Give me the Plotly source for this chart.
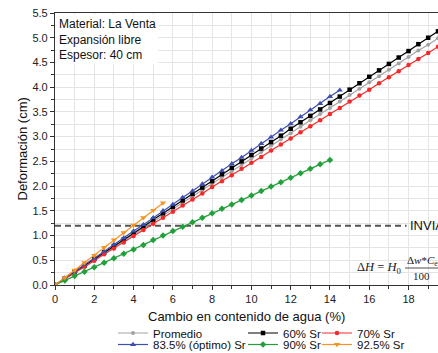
import plotly.graph_objects as go

# ---- data ----
x_long = [0, 0.5, 1, 1.5, 2, 2.5, 3, 3.5, 4, 4.5, 5, 5.5, 6, 6.5, 7, 7.5, 8, 8.5, 9, 9.5,
          10, 10.5, 11, 11.5, 12, 12.5, 13, 13.5, 14, 14.5, 15, 15.5, 16, 16.5, 17, 17.5,
          18, 18.5, 19, 19.5]
promedio = [0, 0.13, 0.26, 0.38, 0.51, 0.64, 0.77, 0.90, 1.02, 1.15, 1.28, 1.41, 1.54, 1.66,
            1.79, 1.92, 2.05, 2.18, 2.30, 2.43, 2.56, 2.69, 2.82, 2.94, 3.07, 3.20, 3.33, 3.46,
            3.58, 3.71, 3.84, 3.97, 4.10, 4.22, 4.35, 4.48, 4.61, 4.74, 4.86, 4.99]
sr60 = [0, 0.13, 0.26, 0.39, 0.53, 0.66, 0.79, 0.92, 1.05, 1.18, 1.32, 1.45, 1.58, 1.71,
        1.84, 1.97, 2.10, 2.24, 2.37, 2.50, 2.63, 2.76, 2.89, 3.02, 3.16, 3.29, 3.42, 3.55,
        3.68, 3.81, 3.95, 4.08, 4.21, 4.34, 4.47, 4.60, 4.73, 4.87, 5.00, 5.13]
sr70 = [0, 0.12, 0.25, 0.37, 0.49, 0.62, 0.74, 0.86, 0.99, 1.11, 1.24, 1.36, 1.48, 1.61,
        1.73, 1.85, 1.98, 2.10, 2.22, 2.35, 2.47, 2.59, 2.72, 2.84, 2.96, 3.09, 3.21, 3.33,
        3.46, 3.58, 3.71, 3.83, 3.95, 4.08, 4.20, 4.32, 4.45, 4.57, 4.69, 4.82]
x_835 = [0, 0.5, 1, 1.5, 2, 2.5, 3, 3.5, 4, 4.5, 5, 5.5, 6, 6.5, 7, 7.5, 8, 8.5, 9, 9.5,
         10, 10.5, 11, 11.5, 12, 12.5, 13, 13.5, 14, 14.5]
sr835 = [0, 0.14, 0.27, 0.41, 0.54, 0.68, 0.82, 0.95, 1.09, 1.22, 1.36, 1.50, 1.63, 1.77,
         1.90, 2.04, 2.18, 2.31, 2.45, 2.58, 2.72, 2.86, 2.99, 3.13, 3.26, 3.40, 3.54, 3.67,
         3.81, 3.94]
x_90 = [0, 0.5, 1, 1.5, 2, 2.5, 3, 3.5, 4, 4.5, 5, 5.5, 6, 6.5, 7, 7.5, 8, 8.5, 9, 9.5,
        10, 10.5, 11, 11.5, 12, 12.5, 13, 13.5, 14]
sr90 = [0, 0.09, 0.18, 0.27, 0.36, 0.45, 0.54, 0.63, 0.72, 0.81, 0.91, 1.00, 1.09, 1.18,
        1.27, 1.36, 1.45, 1.54, 1.63, 1.72, 1.81, 1.90, 1.99, 2.08, 2.17, 2.26, 2.35, 2.44, 2.53]
x_925 = [0, 0.5, 1, 1.5, 2, 2.5, 3, 3.5, 4, 4.5, 5, 5.5]
sr925 = [0, 0.15, 0.30, 0.45, 0.60, 0.76, 0.91, 1.06, 1.21, 1.36, 1.51, 1.66]

invias_x = [0, 17.9]
invias_y = [1.2, 1.2]

series = [
    ("Promedio", x_long, promedio, "#a3a3a3", "circle", 4, "legend"),
    ("60% Sr", x_long, sr60, "#000000", "square", 4.5, "legend2"),
    ("70% Sr", x_long, sr70, "#f42a2a", "circle", 4.5, "legend3"),
    ("83.5% (óptimo) Sr", x_835, sr835, "#3d4fb0", "triangle-up", 5.5, "legend4"),
    ("90% Sr", x_90, sr90, "#22a03a", "diamond", 5, "legend5"),
    ("92.5% Sr", x_925, sr925, "#f7931e", "triangle-down", 5.5, "legend6"),
]

W, H = 438, 353
ML, MR, MT, MB = 55, 0, 13, 68
PW, PH = W - ML - MR, H - MT - MB

def px(xp):
    return (xp - ML) / PW

def py(yp):
    return (H - MB - yp) / PH

fig = go.Figure()

fig.add_trace(go.Scatter(x=invias_x, y=invias_y, mode="lines",
                         line=dict(color="#555555", width=2, dash="6px,4px"),
                         showlegend=False, hoverinfo="skip"))

for name, xs, ys, col, sym, sz, lg in series:
    fig.add_trace(go.Scatter(
        x=xs, y=ys, mode="lines+markers", name=name,
        line=dict(color=col, width=1.2),
        marker=dict(color=col, symbol=sym, size=sz, line=dict(width=0)),
        legend=lg))

font_main = "Liberation Sans, Arial, sans-serif"
grid_col = "#e4e4e4"

fig.update_layout(
    width=W, height=H,
    margin=dict(l=ML, r=MR, t=MT, b=MB, autoexpand=False),
    paper_bgcolor="white", plot_bgcolor="white",
    font=dict(family=font_main, size=11, color="#222222"),
    xaxis=dict(range=[0, 19.5], dtick=2, tick0=0, showline=True, linecolor="#333333",
               linewidth=1.2, mirror=True, ticks="outside", ticklen=4, tickcolor="#333333",
               showgrid=True, gridcolor=grid_col, gridwidth=1, zeroline=False,
               minor=dict(dtick=1, ticks="outside", ticklen=2.5, tickcolor="#333333",
                          showgrid=True, gridcolor=grid_col),
               tickfont=dict(size=11, color="#222222")),
    yaxis=dict(range=[0, 5.5], dtick=0.5, tick0=0, tickformat=".1f", showline=True,
               linecolor="#333333", linewidth=1.2, ticks="outside", ticklen=4,
               tickcolor="#333333", showgrid=True, gridcolor=grid_col, gridwidth=1,
               zeroline=False,
               minor=dict(dtick=0.25, ticks="outside", ticklen=2.5, tickcolor="#333333",
                          showgrid=True, gridcolor=grid_col),
               tickfont=dict(size=11, color="#222222")),
)

# axis titles
fig.add_annotation(x=px(246.5), y=py(316), xref="paper", yref="paper", xanchor="center",
                   yanchor="middle", showarrow=False, text="Cambio en contenido de agua (%)",
                   font=dict(family=font_main, size=13, color="#111111"))
fig.add_annotation(x=px(21.5), y=py(149), xref="paper", yref="paper", xanchor="center",
                   yanchor="middle", showarrow=False, text="Deformación (cm)", textangle=-90,
                   font=dict(family=font_main, size=13, color="#111111"))

# legends, one per entry, laid out in a 3x2 grid like the original
leg_cols = [113, 243, 317]
leg_rows = [333, 344.5]
leg_font = dict(family=font_main, size=11.5, color="#111111")
for i, (name, *_rest) in enumerate(series):
    key = "legend" if i == 0 else f"legend{i+1}"
    col = leg_cols[i % 3]
    row = leg_rows[i // 3]
    fig.update_layout({key: dict(x=col / W, y=1 - row / H, xanchor="left", yanchor="middle",
                                 xref="container", yref="container", bgcolor="rgba(0,0,0,0)",
                                 borderwidth=0, font=leg_font, orientation="v")})

# info box
fig.add_annotation(x=0.003, y=0.997, xref="paper", yref="paper", xanchor="left", yanchor="top",
                   align="left", showarrow=False, bgcolor="white", borderpad=2,
                   text="Material: La Venta<br>Expansión libre<br>Espesor: 40 cm",
                   font=dict(family=font_main, size=12, color="#111111"))

# INVIAS label (cut at the right edge, as in the original)
fig.add_annotation(x=17.95, y=1.2, xref="x", yref="y", xanchor="left", yanchor="middle",
                   showarrow=False, text="INVIAS", font=dict(family=font_main, size=13, color="#111111"))

# equation
serif = "Liberation Serif, Times New Roman, serif"
fig.add_annotation(x=px(403), y=py(268), xref="paper", yref="paper", xanchor="right",
                   yanchor="middle", showarrow=False,
                   text="Δ<i>H</i> = <i>H</i><sub>0</sub>",
                   font=dict(family=serif, size=12.5, color="#222222"))
fig.add_annotation(x=px(405), y=py(261), xref="paper", yref="paper", xanchor="left",
                   yanchor="middle", showarrow=False,
                   text="Δ<i>w</i>*<i>C</i><sub>ew</sub>",
                   font=dict(family=serif, size=11, color="#222222"))
fig.add_annotation(x=px(421), y=py(276), xref="paper", yref="paper", xanchor="center",
                   yanchor="middle", showarrow=False, text="100",
                   font=dict(family=serif, size=11, color="#222222"))
fig.add_shape(type="line", xref="paper", yref="paper", x0=px(405), x1=px(445),
              y0=py(268), y1=py(268), line=dict(color="#222222", width=0.8))

fig.write_html("out.html")
